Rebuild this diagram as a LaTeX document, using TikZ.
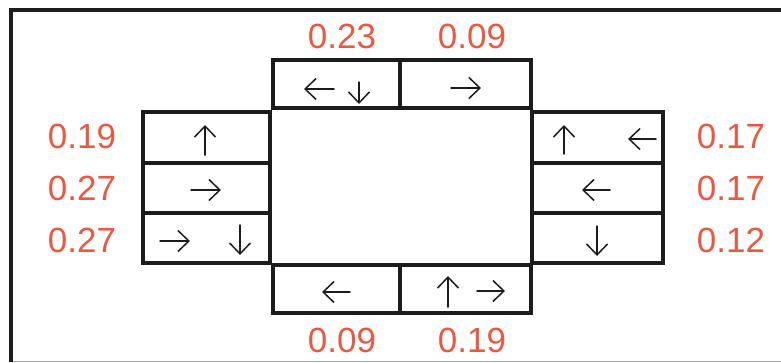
\documentclass[tikz,border=0pt]{standalone}
\usepackage{fontspec}
\setmainfont{Liberation Sans}
\usetikzlibrary{arrows.meta}
\definecolor{valred}{RGB}{234,88,66}
\definecolor{ink}{RGB}{28,28,28}
\begin{document}
\begin{tikzpicture}[x=1pt,y=-1pt,
  frame/.style={line width=3.2pt, draw=ink},
  cell/.style={line width=3.2pt, draw=ink},
  dir/.style={line width=1.5pt, draw=ink, line cap=round,
    -{Straight Barb[length=11pt,width=21pt,line width=1.5pt]}},
  val/.style={anchor=base, text=valred, font=\fontsize{35}{35}\selectfont, inner sep=0pt}]
\useasboundingbox (0,0) rectangle (781,362);
% outer frame
\draw[line width=1.2pt, draw=black!35] (12,361.2) -- (781,361.2);
\draw[frame] (781,10) -- (11,10) -- (11,362);
% central block: top cells
\draw[cell] (273,60) rectangle (400,108);
\draw[cell] (400,60) rectangle (531,108);
% bottom cells
\draw[cell] (273,265) rectangle (400,313);
\draw[cell] (400,265) rectangle (531,313);
% left cells
\draw[cell] (143,112) rectangle (270,163);
\draw[cell] (143,163) rectangle (270,213);
\draw[cell] (143,213) rectangle (270,263);
% right cells
\draw[cell] (532,112) rectangle (663,163);
\draw[cell] (532,163) rectangle (663,213);
\draw[cell] (532,213) rectangle (663,263);
% direction arrows
\coordinate (t1a) at (334,89);  \coordinate (t1b) at (304,89);
\coordinate (t2a) at (359,82);  \coordinate (t2b) at (359,104);
\coordinate (t3a) at (451,88);  \coordinate (t3b) at (481,88);
\draw[dir] (t1a) -- (t1b);
\draw[dir] (t2a) -- (t2b);
\draw[dir] (t3a) -- (t3b);
\coordinate (l1a) at (205,155); \coordinate (l1b) at (205,125);
\coordinate (l2a) at (191,190); \coordinate (l2b) at (221,190);
\coordinate (l3a) at (160,241); \coordinate (l3b) at (190,241);
\coordinate (l4a) at (240,225); \coordinate (l4b) at (240,255);
\draw[dir] (l1a) -- (l1b);
\draw[dir] (l2a) -- (l2b);
\draw[dir] (l3a) -- (l3b);
\draw[dir] (l4a) -- (l4b);
\coordinate (r1a) at (564,154); \coordinate (r1b) at (564,125);
\coordinate (r2a) at (656,139); \coordinate (r2b) at (628,139);
\coordinate (r3a) at (610,190); \coordinate (r3b) at (582,190);
\coordinate (r4a) at (597,226); \coordinate (r4b) at (597,256);
\draw[dir] (r1a) -- (r1b);
\draw[dir] (r2a) -- (r2b);
\draw[dir] (r3a) -- (r3b);
\draw[dir] (r4a) -- (r4b);
\coordinate (b1a) at (350,292); \coordinate (b1b) at (322,292);
\coordinate (b2a) at (448,307); \coordinate (b2b) at (448,276);
\coordinate (b3a) at (477,291); \coordinate (b3b) at (505,291);
\draw[dir] (b1a) -- (b1b);
\draw[dir] (b2a) -- (b2b);
\draw[dir] (b3a) -- (b3b);
% values
\node[val] (vt1) at (342,48) {0.23};
\node[val] (vt2) at (472,48) {0.09};
\node[val] (vl1) at (82,148) {0.19};
\node[val] (vl2) at (82,200) {0.27};
\node[val] (vl3) at (82,252) {0.27};
\node[val] (vr1) at (731,148) {0.17};
\node[val] (vr2) at (731,200) {0.17};
\node[val] (vr3) at (731,252) {0.12};
\node[val] (vb1) at (342,352) {0.09};
\node[val] (vb2) at (472,352) {0.19};
\end{tikzpicture}
\end{document}
